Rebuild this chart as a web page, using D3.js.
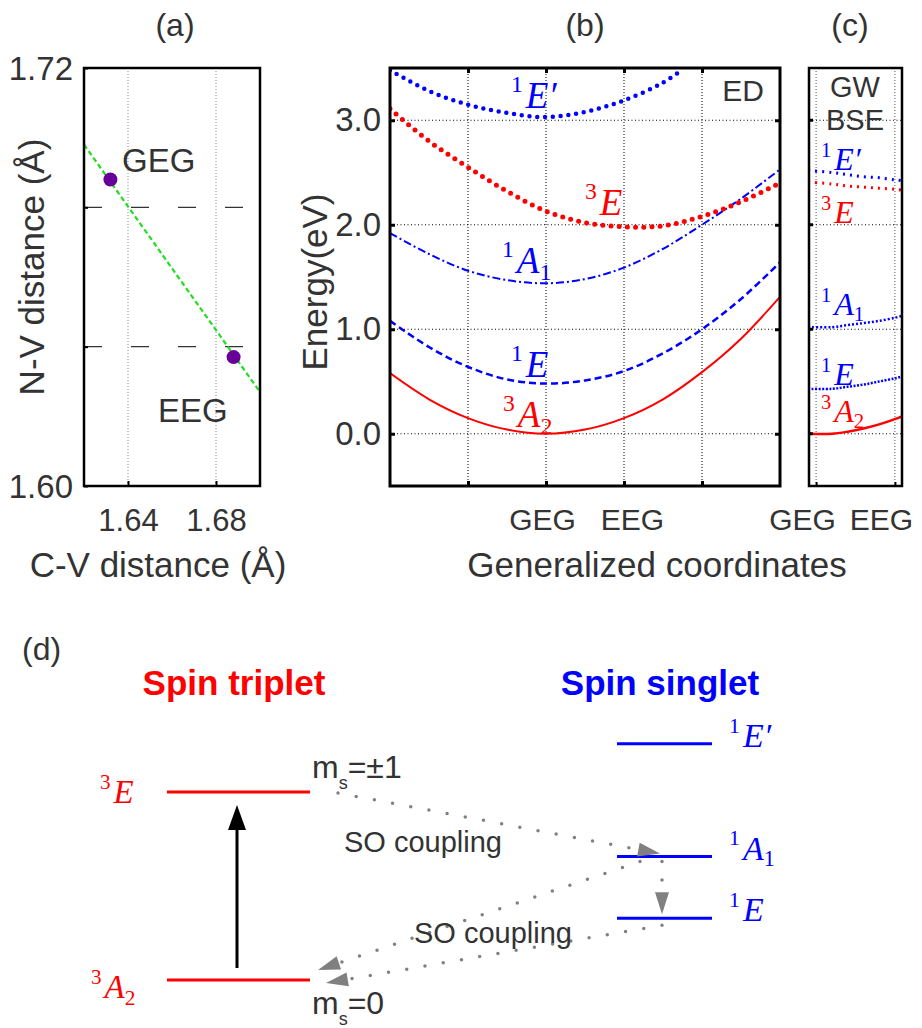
<!DOCTYPE html>
<html>
<head>
<meta charset="utf-8">
<script src="https://cdn.jsdelivr.net/npm/d3@7"></script>
<style>
  body { margin: 0; background: #fff; }
  text { font-family: "Liberation Sans", Arial, sans-serif; fill: #333; }
  .math { font-family: "Liberation Serif", "DejaVu Serif", serif; }
</style>
</head>
<body>
<svg id="fig" width="922" height="1028"></svg>
<script>
// ---- panel (a): geometry ----
const cvTicks = [1.64, 1.68];
const nvTicks = [1.60, 1.64, 1.68, 1.72];
const nvTickLabels = ['1.60', '', '', '1.72'];
const fitCV = [1.62, 1.70];
const fitNV = [1.698, 1.627];
const pointNames = ['GEG', 'EEG'];
const pointCV = [1.632, 1.688];
const pointNV = [1.688, 1.637];

// ---- panel (b): ED energies (eV) vs generalized coordinate ----
const coordB = [-2, -1.5, -1, -0.5, 0, 0.5, 1, 1.5, 2, 2.5, 3];
const edA2 = [0.58, 0.33, 0.15, 0.04, 0.0, 0.04, 0.15, 0.33, 0.59, 0.91, 1.31];
const edE1 = [1.08, 0.83, 0.64, 0.52, 0.48, 0.51, 0.60, 0.77, 1.00, 1.29, 1.64];
const edA1 = [1.92, 1.72, 1.56, 1.47, 1.44, 1.48, 1.59, 1.77, 2.00, 2.25, 2.53];
const edE3 = [3.11, 2.80, 2.55, 2.32, 2.13, 2.02, 1.98, 1.99, 2.08, 2.22, 2.40];
const coordB1p = [-2, -1.5, -1, -0.5, 0, 0.5, 1, 1.5, 1.72];
const edE1p = [3.48, 3.28, 3.15, 3.07, 3.03, 3.08, 3.19, 3.36, 3.47];
const energyTicks = [0, 1, 2, 3];
const energyTickLabels = ['0.0', '1.0', '2.0', '3.0'];
const coordTicks = [0, 1];
const coordTickLabels = ['GEG', 'EEG'];

// ---- panel (c): GW-BSE energies ----
const coordC = [-0.1, 0.2, 0.4, 0.6, 0.8, 1.0, 1.1];
const gwA2 = [0.0, 0.0, 0.02, 0.05, 0.09, 0.14, 0.17];
const gwE1 = [0.43, 0.43, 0.45, 0.47, 0.50, 0.53, 0.55];
const gwA1 = [1.02, 1.02, 1.04, 1.06, 1.08, 1.11, 1.13];
const gwE1p = [2.52, 2.50, 2.48, 2.46, 2.45, 2.43, 2.42];
const gwE3 = [2.41, 2.39, 2.37, 2.36, 2.35, 2.34, 2.33];

// ---- panel (d): level diagram ----
const tripletNames = [['3', 'A', '2'], ['3', 'E', '']];
const tripletLevels = [0, 1.95];
const singletNames = [['1', 'E', ''], ['1', 'A', '1'], ['1', 'E′', '']];
const singletLevels = [0.64, 1.28, 2.45];

const RED = '#ff0000', BLUE = '#0000ff', GRAY = '#808080';
const svg = d3.select('#fig');
svg.append('rect').attr('width', 922).attr('height', 1028).attr('fill', '#fff');

// superscript + italic symbol + subscript
function mathLabel(g, x, y, sup, main, sub, color, size) {
  const t = g.append('text').attr('class', 'math').attr('x', x).attr('y', y)
    .style('fill', color).style('font-size', size + 'px');
  t.append('tspan').text(sup).style('font-size', (size * 0.64) + 'px').attr('dy', -size * 0.42);
  t.append('tspan').text(main).style('font-style', 'italic').attr('dx', 3).attr('dy', size * 0.42);
  if (sub) t.append('tspan').text(sub).style('font-size', (size * 0.65) + 'px').attr('dy', size * 0.2);
  return t;
}

function zip(xs, ys) { return xs.map((x, i) => [x, ys[i]]); }

// ================= (a) =================
const ga = svg.append('g');
const xA = d3.scaleLinear().domain([1.62, 1.70]).range([84, 260]);
const yA = d3.scaleLinear().domain([1.60, 1.72]).range([486, 68]);

ga.selectAll('.vg').data(cvTicks).join('line')
  .attr('x1', d => xA(d)).attr('x2', d => xA(d)).attr('y1', yA(1.60)).attr('y2', yA(1.72))
  .attr('stroke', '#888').attr('stroke-width', 1).attr('stroke-dasharray', '1,2');
ga.selectAll('.hg').data([1.64, 1.68]).join('line')
  .attr('x1', xA(1.62)).attr('x2', xA(1.70)).attr('y1', d => yA(d)).attr('y2', d => yA(d))
  .attr('stroke', '#333').attr('stroke-width', 1.2).attr('stroke-dasharray', '18,29');

ga.append('line')
  .attr('x1', xA(fitCV[0])).attr('y1', yA(fitNV[0]))
  .attr('x2', xA(fitCV[1])).attr('y2', yA(fitNV[1]))
  .attr('stroke', '#22dd22').attr('stroke-width', 2.2).attr('stroke-dasharray', '5,3');

ga.selectAll('.pt').data(pointNames).join('circle')
  .attr('cx', (d, i) => xA(pointCV[i])).attr('cy', (d, i) => yA(pointNV[i]))
  .attr('r', 7).attr('fill', '#660099');

ga.append('text').attr('x', 122).attr('y', 172).style('font-size', '33px').text(pointNames[0]);
ga.append('text').attr('x', 158).attr('y', 422).style('font-size', '33px').text(pointNames[1]);

ga.append('g').attr('transform', `translate(0,${yA(1.60)})`)
  .call(d3.axisBottom(xA).tickValues(cvTicks).tickFormat(d3.format('.2f')).tickSizeInner(-5).tickSizeOuter(0).tickPadding(23))
  .call(g => g.select('.domain').remove())
  .call(g => g.selectAll('line').attr('stroke', '#000').attr('stroke-width', 2))
  .call(g => g.selectAll('text').style('font-size', '31px').style('fill', '#333').attr('font-family', null));
ga.append('g').attr('transform', `translate(${xA(1.62)},0)`)
  .call(d3.axisLeft(yA).tickValues(nvTicks).tickFormat((d, i) => nvTickLabels[i]).tickSizeInner(-4).tickSizeOuter(0).tickPadding(11))
  .call(g => g.select('.domain').remove())
  .call(g => g.selectAll('line').attr('stroke', '#000').attr('stroke-width', 2))
  .call(g => g.selectAll('text').style('font-size', '33px').style('fill', '#333').attr('dy', '0.35em').attr('font-family', null));

ga.append('rect').attr('x', 84).attr('y', 68).attr('width', 176).attr('height', 418)
  .attr('fill', 'none').attr('stroke', '#000').attr('stroke-width', 2.5);

ga.append('text').attr('text-anchor', 'middle').attr('transform', 'translate(44,267) rotate(-90)')
  .style('font-size', '35px').text('N-V distance (Å)');
ga.append('text').attr('text-anchor', 'middle').attr('x', 158).attr('y', 577)
  .style('font-size', '35px').text('C-V distance (Å)');
ga.append('text').attr('text-anchor', 'middle').attr('x', 175).attr('y', 36)
  .style('font-size', '32px').text('(a)');

// ================= (b) =================
const gb = svg.append('g');
const xB = d3.scaleLinear().domain([-2, 3]).range([390, 780]);
const yE = d3.scaleLinear().domain([-0.5, 3.5]).range([486, 68]);

svg.append('clipPath').attr('id', 'clipB').append('rect')
  .attr('x', 390).attr('y', 68).attr('width', 390).attr('height', 418);

gb.selectAll('.vg').data([-1, 0, 1, 2]).join('line')
  .attr('x1', d => xB(d)).attr('x2', d => xB(d)).attr('y1', 68).attr('y2', 486)
  .attr('stroke', '#000').attr('stroke-width', 1).attr('stroke-dasharray', '1,2');
gb.selectAll('.hg').data(energyTicks).join('line')
  .attr('x1', 390).attr('x2', 780).attr('y1', d => yE(d)).attr('y2', d => yE(d))
  .attr('stroke', '#000').attr('stroke-width', 1).attr('stroke-dasharray', '1,2.5');

const lineB = d3.line().x(d => xB(d[0])).y(d => yE(d[1])).curve(d3.curveCatmullRom);
const curvesB = gb.append('g').attr('clip-path', 'url(#clipB)');
curvesB.append('path').attr('d', lineB(zip(coordB, edA2)))
  .attr('fill', 'none').attr('stroke', RED).attr('stroke-width', 2);
curvesB.append('path').attr('d', lineB(zip(coordB, edE1)))
  .attr('fill', 'none').attr('stroke', BLUE).attr('stroke-width', 2.5).attr('stroke-dasharray', '7,4');
curvesB.append('path').attr('d', lineB(zip(coordB, edA1)))
  .attr('fill', 'none').attr('stroke', BLUE).attr('stroke-width', 2).attr('stroke-dasharray', '8,3,2,3');
curvesB.append('path').attr('d', lineB(zip(coordB, edE3)))
  .attr('fill', 'none').attr('stroke', RED).attr('stroke-width', 5)
  .attr('stroke-linecap', 'round').attr('stroke-dasharray', '0,8.2');
curvesB.append('path').attr('d', lineB(zip(coordB1p, edE1p)))
  .attr('fill', 'none').attr('stroke', BLUE).attr('stroke-width', 4.5)
  .attr('stroke-linecap', 'round').attr('stroke-dasharray', '0,7.8');

gb.append('g').attr('transform', 'translate(390,0)')
  .call(d3.axisLeft(yE).tickValues(energyTicks).tickFormat((d, i) => energyTickLabels[i]).tickSizeInner(-5).tickSizeOuter(0).tickPadding(9))
  .call(g => g.select('.domain').remove())
  .call(g => g.selectAll('line').attr('stroke', '#000').attr('stroke-width', 3))
  .call(g => g.selectAll('text').style('font-size', '33px').style('fill', '#333').attr('font-family', null));
gb.append('g').attr('transform', 'translate(780,0)')
  .call(d3.axisRight(yE).tickValues(energyTicks).tickFormat('').tickSizeInner(-5).tickSizeOuter(0))
  .call(g => g.select('.domain').remove())
  .call(g => g.selectAll('line').attr('stroke', '#000').attr('stroke-width', 3));
gb.append('g').attr('transform', 'translate(0,486)')
  .call(d3.axisBottom(xB).tickValues([-1, 0, 1, 2]).tickFormat(d => { const i = coordTicks.indexOf(d); return i < 0 ? '' : coordTickLabels[i]; })
    .tickSizeInner(-5).tickSizeOuter(0).tickPadding(23))
  .call(g => g.select('.domain').remove())
  .call(g => g.selectAll('line').attr('stroke', '#000').attr('stroke-width', 3))
  .call(g => g.selectAll('text').style('font-size', '30px').style('fill', '#333').attr('font-family', null)
    .attr('dx', d => d === 0 ? -4 : (d === 1 ? 8 : 0)));
gb.append('g').attr('transform', 'translate(0,68)')
  .call(d3.axisTop(xB).tickValues([-1, 0, 1, 2]).tickFormat('').tickSizeInner(-5).tickSizeOuter(0))
  .call(g => g.select('.domain').remove())
  .call(g => g.selectAll('line').attr('stroke', '#000').attr('stroke-width', 3));

gb.append('rect').attr('x', 390).attr('y', 68).attr('width', 390).attr('height', 418)
  .attr('fill', 'none').attr('stroke', '#000').attr('stroke-width', 3);

mathLabel(gb, 511, 108, '1', 'E′', '', BLUE, 37);
mathLabel(gb, 585, 215, '3', 'E', '', RED, 37);
mathLabel(gb, 502, 273, '1', 'A', '1', BLUE, 37);
mathLabel(gb, 511, 377, '1', 'E', '', BLUE, 37);
mathLabel(gb, 503, 427, '3', 'A', '2', RED, 37);
gb.append('text').attr('text-anchor', 'middle').attr('x', 743).attr('y', 101)
  .style('font-size', '30px').text('ED');

gb.append('text').attr('text-anchor', 'middle').attr('transform', 'translate(327,282) rotate(-90)')
  .style('font-size', '35px').text('Energy(eV)');
gb.append('text').attr('text-anchor', 'middle').attr('x', 657).attr('y', 577)
  .style('font-size', '35px').text('Generalized coordinates');
gb.append('text').attr('text-anchor', 'middle').attr('x', 585).attr('y', 36)
  .style('font-size', '32px').text('(b)');

// ================= (c) =================
const gc = svg.append('g');
const xC = d3.scaleLinear().domain([-0.09, 1.09]).range([809, 902]);

svg.append('clipPath').attr('id', 'clipC').append('rect')
  .attr('x', 809).attr('y', 68).attr('width', 93).attr('height', 418);

gc.selectAll('.vg').data(coordTicks).join('line')
  .attr('x1', d => xC(d)).attr('x2', d => xC(d)).attr('y1', 68).attr('y2', 486)
  .attr('stroke', '#555').attr('stroke-width', 1).attr('stroke-dasharray', '1,2');
gc.selectAll('.hg').data(energyTicks).join('line')
  .attr('x1', 809).attr('x2', 902).attr('y1', d => yE(d)).attr('y2', d => yE(d))
  .attr('stroke', '#000').attr('stroke-width', 1).attr('stroke-dasharray', '1,2.5');

const lineC = d3.line().x(d => xC(d[0])).y(d => yE(d[1])).curve(d3.curveCatmullRom);
const curvesC = gc.append('g').attr('clip-path', 'url(#clipC)');
curvesC.append('path').attr('d', lineC(zip(coordC, gwA2)))
  .attr('fill', 'none').attr('stroke', RED).attr('stroke-width', 2.5);
curvesC.append('path').attr('d', lineC(zip(coordC, gwE1)))
  .attr('fill', 'none').attr('stroke', BLUE).attr('stroke-width', 2.5).attr('stroke-dasharray', '2,1.5');
curvesC.append('path').attr('d', lineC(zip(coordC, gwA1)))
  .attr('fill', 'none').attr('stroke', BLUE).attr('stroke-width', 2.5).attr('stroke-dasharray', '2,2');
curvesC.append('path').attr('d', lineC(zip(coordC, gwE1p)))
  .attr('fill', 'none').attr('stroke', BLUE).attr('stroke-width', 3).attr('stroke-dasharray', '2,5');
curvesC.append('path').attr('d', lineC(zip(coordC, gwE3)))
  .attr('fill', 'none').attr('stroke', RED).attr('stroke-width', 3).attr('stroke-dasharray', '2,5');

gc.append('g').attr('transform', 'translate(0,486)')
  .call(d3.axisBottom(xC).tickValues(coordTicks).tickFormat((d, i) => coordTickLabels[i]).tickSizeInner(-4).tickSizeOuter(0).tickPadding(23))
  .call(g => g.select('.domain').remove())
  .call(g => g.selectAll('line').attr('stroke', '#000').attr('stroke-width', 2))
  .call(g => g.selectAll('text').style('font-size', '30px').style('fill', '#333').attr('font-family', null).attr('dx', -14));
gc.selectAll('.yt').data(energyTicks).join('line')
  .attr('x1', 809).attr('x2', 813).attr('y1', d => yE(d)).attr('y2', d => yE(d))
  .attr('stroke', '#000').attr('stroke-width', 3);

gc.append('rect').attr('x', 809).attr('y', 68).attr('width', 93).attr('height', 418)
  .attr('fill', 'none').attr('stroke', '#000').attr('stroke-width', 2.5);

gc.append('text').attr('text-anchor', 'middle').attr('x', 855).attr('y', 97)
  .style('font-size', '29px').text('GW');
gc.append('text').attr('text-anchor', 'middle').attr('x', 855).attr('y', 130)
  .style('font-size', '29px').text('BSE');
mathLabel(gc, 821, 170, '1', 'E′', '', BLUE, 32);
mathLabel(gc, 821, 223, '3', 'E', '', RED, 32);
mathLabel(gc, 821, 315, '1', 'A', '1', BLUE, 32);
mathLabel(gc, 821, 385, '1', 'E', '', BLUE, 32);
mathLabel(gc, 821, 422, '3', 'A', '2', RED, 32);
gc.append('text').attr('text-anchor', 'middle').attr('x', 850).attr('y', 36)
  .style('font-size', '32px').text('(c)');

// ================= (d) =================
const gd = svg.append('g');
const yD = d3.scaleLinear().domain([0, 1.95]).range([980, 792]);

gd.append('text').attr('x', 22).attr('y', 660).style('font-size', '32px').text('(d)');
gd.append('text').attr('text-anchor', 'middle').attr('x', 234).attr('y', 695)
  .style('font-size', '35px').style('font-weight', 'bold').style('fill', RED).text('Spin triplet');
gd.append('text').attr('text-anchor', 'middle').attr('x', 660).attr('y', 695)
  .style('font-size', '35px').style('font-weight', 'bold').style('fill', BLUE).text('Spin singlet');

gd.selectAll('.tl').data(tripletLevels).join('line')
  .attr('x1', 167).attr('x2', 310).attr('y1', d => yD(d)).attr('y2', d => yD(d))
  .attr('stroke', RED).attr('stroke-width', 3);
gd.selectAll('.sl').data(singletLevels).join('line')
  .attr('x1', 617).attr('x2', 712).attr('y1', d => yD(d)).attr('y2', d => yD(d))
  .attr('stroke', BLUE).attr('stroke-width', 3);

tripletNames.forEach((n, i) => mathLabel(gd, n[2] ? 91 : 100, yD(tripletLevels[i]) + (n[2] ? 18 : 11), n[0], n[1], n[2], RED, 33));
singletNames.forEach((n, i) => mathLabel(gd, 729, yD(singletLevels[i]) + 3, n[0], n[1], n[2], BLUE, 34));

function arrowHead(g, x1, y1, x2, y2, len, half, color) {
  const a = Math.atan2(y2 - y1, x2 - x1);
  const bx = x2 - len * Math.cos(a), by = y2 - len * Math.sin(a);
  const px = -Math.sin(a) * half, py = Math.cos(a) * half;
  g.append('path').attr('d', `M${x2},${y2}L${bx + px},${by + py}L${bx - px},${by - py}Z`).attr('fill', color);
}

// optical excitation
gd.append('line').attr('x1', 237).attr('x2', 237).attr('y1', yD(0) - 12).attr('y2', yD(1.95) + 36)
  .attr('stroke', '#000').attr('stroke-width', 3);
arrowHead(gd, 237, 900, 237, yD(1.95) + 13, 25, 9, '#000');

// intersystem crossing paths
const isc = [
  [338, yD(1.95) + 1, 660, yD(1.28) - 3],
  [662, yD(1.28) + 5, 662, yD(0.64) - 4],
  [640, yD(1.28) + 5, 318, yD(0) - 10],
  [662, yD(0.64) + 7, 326, yD(0) + 3]
];
isc.forEach(p => {
  gd.append('line').attr('x1', p[0]).attr('y1', p[1]).attr('x2', p[2]).attr('y2', p[3])
    .attr('stroke', GRAY).attr('stroke-width', 3.5).attr('stroke-linecap', 'round')
    .attr('stroke-dasharray', '0,18.5');
  arrowHead(gd, p[0], p[1], p[2], p[3], 22, 7, GRAY);
});

gd.append('text').attr('text-anchor', 'middle').attr('x', 423).attr('y', 852)
  .style('font-size', '29px').text('SO coupling');
gd.append('text').attr('text-anchor', 'middle').attr('x', 493).attr('y', 943)
  .style('font-size', '29px').text('SO coupling');

function msLabel(x, y, val) {
  const t = gd.append('text').attr('x', x).attr('y', y).style('font-size', '32px');
  t.append('tspan').text('m');
  t.append('tspan').text('s').style('font-size', '18px').attr('dy', 11);
  t.append('tspan').text('=' + val).attr('dy', -11);
}
msLabel(312, 778, '±1');
msLabel(312, 1014, '0');
</script>
</body>
</html>
